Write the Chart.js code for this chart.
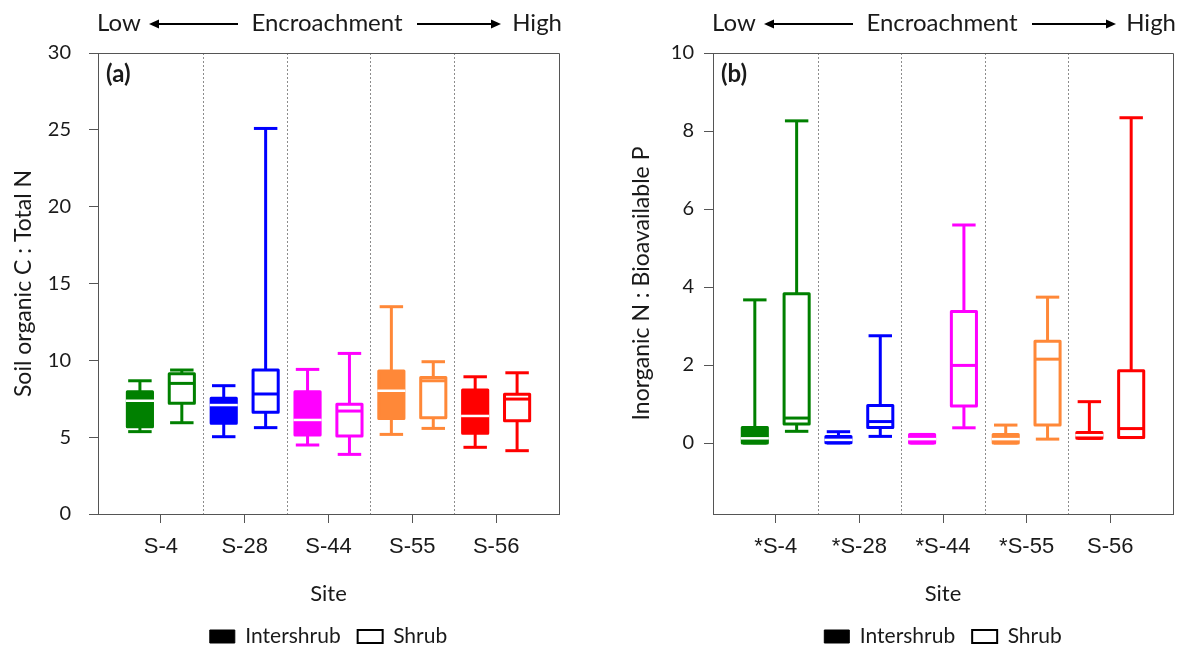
<!DOCTYPE html>
<html><head><meta charset="utf-8">
<script src="https://cdn.jsdelivr.net/npm/chart.js@4.4.1/dist/chart.umd.min.js"></script>
<style>
html,body{margin:0;padding:0;background:#fff;overflow:hidden;}
#wrap{position:relative;width:1177px;height:650px;}
.box{position:absolute;top:0;height:657px;}
#a{left:0;width:588px;}
#b{left:600px;width:577px;}
</style></head><body>
<div id="wrap"><div class="box" id="a"><canvas id="ca"></canvas></div><div class="box" id="b"><canvas id="cb"></canvas></div></div>
<script>
// ---- data ----
const sitesA = ['S-4', 'S-28', 'S-44', 'S-55', 'S-56'];
const sitesB = ['*S-4', '*S-28', '*S-44', '*S-55', 'S-56'];
const siteColors = ['#008000', '#0000ff', '#ff00ff', '#ff8838', '#ff0000'];
const ticksA = [0, 5, 10, 15, 20, 25, 30];
const ticksB = [0, 2, 4, 6, 8, 10];
// each entry: [min, Q1, median, Q3, max]
const cnIntershrub = [[5.36, 5.68, 7.37, 7.96, 8.67], [5.03, 5.90, 7.09, 7.53, 8.35], [4.49, 5.14, 6.12, 7.96, 9.41], [5.18, 6.22, 8.02, 9.30, 13.49], [4.34, 5.25, 6.38, 8.07, 8.93]];
const cnShrub = [[5.94, 7.20, 8.50, 9.12, 9.37], [5.62, 6.62, 7.81, 9.37, 25.09], [3.88, 5.07, 6.70, 7.14, 10.45], [5.57, 6.27, 8.67, 8.89, 9.91], [4.12, 6.07, 7.48, 7.79, 9.19]];
const npIntershrub = [[0.0, 0.0, 0.12, 0.40, 3.67], [0.0, 0.01, 0.08, 0.17, 0.29], [0.0, 0.0, 0.10, 0.22, 0.22], [0.0, 0.0, 0.10, 0.22, 0.46], [0.12, 0.12, 0.20, 0.27, 1.06]];
const npShrub = [[0.30, 0.49, 0.64, 3.83, 8.26], [0.17, 0.40, 0.55, 0.96, 2.75], [0.39, 0.95, 1.99, 3.37, 5.59], [0.10, 0.46, 2.15, 2.61, 3.74], [0.14, 0.14, 0.37, 1.85, 8.34]];

const CAL = 'Lato, "Open Sans", sans-serif';
const ARI = '"Liberation Sans", Arial, sans-serif';
const TXT = '#1a1a1a';

const boxPlugin = {
  id: 'boxplots',
  afterDatasetsDraw(chart, args, o) {
    const {ctx, chartArea: a, scales: {x, y}} = chart;
    ctx.save();
    // dotted dividers between sites
    ctx.strokeStyle = '#8c8c8c'; ctx.lineWidth = 1; ctx.setLineDash([2, 2]);
    for (let i = 0; i < o.sites.length - 1; i++) {
      const px = Math.round(x.getPixelForValue(i + 0.5)) + 0.5;
      ctx.beginPath(); ctx.moveTo(px, a.top); ctx.lineTo(px, a.bottom); ctx.stroke();
    }
    ctx.setLineDash([]);
    const unit = x.getPixelForValue(1) - x.getPixelForValue(0);
    const bw = unit * 0.30, cw = unit * 0.28;
    chart.data.datasets.forEach(ds => {
      ds.stats.forEach((s, i) => {
        const cx = x.getPixelForValue(i + ds.offset);
        const [mn, q1, md, q3, mx] = s.map(v => y.getPixelForValue(v));
        const col = o.colors[i];
        ctx.strokeStyle = col; ctx.lineWidth = 3; ctx.lineCap = 'butt'; ctx.lineJoin = 'round';
        const seg = (x1, y1, x2, y2) => { ctx.beginPath(); ctx.moveTo(x1, y1); ctx.lineTo(x2, y2); ctx.stroke(); };
        seg(cx, q3, cx, mx); seg(cx, q1, cx, mn);
        seg(cx - cw / 2, mx, cx + cw / 2, mx); seg(cx - cw / 2, mn, cx + cw / 2, mn);
        ctx.beginPath(); ctx.rect(cx - bw / 2, q3, bw, q1 - q3);
        ctx.fillStyle = ds.filled ? col : '#fff'; ctx.fill(); ctx.stroke();
        if (ds.filled) { ctx.strokeStyle = '#fff'; ctx.lineWidth = 2.5; seg(cx - bw / 2 - 1.5, md, cx + bw / 2 + 1.5, md); }
        else { seg(cx - bw / 2, md, cx + bw / 2, md); }
      });
    });
    // frame
    ctx.strokeStyle = '#555'; ctx.lineWidth = 1;
    ctx.strokeRect(Math.round(a.left) + 0.5, Math.round(a.top) + 0.5, Math.round(a.right - a.left), Math.round(a.bottom - a.top));
    // panel letter
    ctx.fillStyle = TXT; ctx.font = 'bold 24px ' + CAL; ctx.textAlign = 'left'; ctx.textBaseline = 'middle';
    ctx.fillText(o.letter, a.left + 8, a.top + 21);
    // header: Low <---- Encroachment ----> High
    const hy = 23, L = a.left;
    ctx.font = '24px ' + CAL;
    ctx.fillText('Low', L - 1, hy);
    ctx.textAlign = 'center'; ctx.fillText('Encroachment', L + 229, hy);
    ctx.textAlign = 'right'; ctx.fillText('High', a.right + 3, hy);
    ctx.strokeStyle = '#000'; ctx.fillStyle = '#000'; ctx.lineWidth = 2;
    const arrow = (tail, tip) => {
      const d = Math.sign(tip - tail);
      ctx.beginPath(); ctx.moveTo(tail, hy + 1); ctx.lineTo(tip - d * 8, hy + 1); ctx.stroke();
      ctx.beginPath(); ctx.moveTo(tip, hy + 1); ctx.lineTo(tip - d * 10, hy + 1 - 4.5); ctx.lineTo(tip - d * 10, hy + 1 + 4.5); ctx.closePath(); ctx.fill();
    };
    arrow(L + 140, L + 51);
    arrow(L + 319, L + 403);
    ctx.restore();
  }
};

function makeChart(id, c) {
  return new Chart(document.getElementById(id), {
    type: 'scatter',
    data: {
      datasets: [
        {label: 'Intershrub', data: c.inter.map((s, i) => ({x: i - 0.25, y: s[2]})), stats: c.inter, offset: -0.25, filled: true, pointRadius: 0},
        {label: 'Shrub', data: c.shrub.map((s, i) => ({x: i + 0.25, y: s[2]})), stats: c.shrub, offset: 0.25, filled: false, pointRadius: 0}
      ]
    },
    options: {
      responsive: true, maintainAspectRatio: false, animation: false, events: [],
      layout: {padding: {top: 53, right: c.padRight, left: 0, bottom: 0}},
      scales: {
        x: {
          type: 'linear', min: -0.75, max: 4.75,
          afterBuildTicks: ax => { ax.ticks = c.sites.map((s, i) => ({value: i})); },
          ticks: {callback: v => c.sites[v], font: {family: ARI, size: 22}, color: TXT, padding: 11, maxRotation: 0, autoSkip: false},
          grid: {drawOnChartArea: false, drawTicks: true, tickLength: 9, color: '#555', tickColor: '#555'},
          border: {color: '#555', width: 1},
          title: {display: true, text: 'Site', font: {family: CAL, size: 22}, color: TXT, padding: {top: 0, bottom: 2}},
          afterFit: ax => { ax.height = 95; }
        },
        y: {
          min: c.yMin, max: c.yMax,
          afterBuildTicks: ax => { ax.ticks = c.yTicks.map(v => ({value: v})); },
          ticks: {font: {family: CAL, size: 20}, color: TXT, padding: c.tickPad},
          grid: {drawOnChartArea: false, drawTicks: true, tickLength: 9, color: '#555', tickColor: '#555'},
          border: {color: '#555', width: 1},
          title: {display: true, text: c.yTitle, font: {family: CAL, size: 23}, color: TXT, padding: {top: c.titlePad, bottom: 0}},
          afterFit: ax => { ax.width = c.yWidth; }
        }
      },
      plugins: {
        tooltip: {enabled: false},
        legend: {
          position: 'bottom', fullSize: false,
          labels: {
            boxWidth: 25, boxHeight: 13, padding: 17, color: TXT, font: {family: CAL, size: 21},
            generateLabels: () => [
              {text: 'Intershrub', fillStyle: '#000', strokeStyle: '#000', lineWidth: 1, hidden: false, datasetIndex: 0, fontColor: TXT},
              {text: 'Shrub', fillStyle: '#fff', strokeStyle: '#000', lineWidth: 2, hidden: false, datasetIndex: 1, fontColor: TXT}
            ]
          }
        },
        boxplots: {sites: c.sites, colors: siteColors, letter: c.letter}
      }
    },
    plugins: [boxPlugin]
  });
}

makeChart('ca', {sites: sitesA, inter: cnIntershrub, shrub: cnShrub, yMin: 0, yMax: 30, yTicks: ticksA,
  yTitle: 'Soil organic C : Total N', yWidth: 98, tickPad: 18, titlePad: 10, padRight: 29, letter: '(a)'});
makeChart('cb', {sites: sitesB, inter: npIntershrub, shrub: npShrub, yMin: -1.82, yMax: 10, yTicks: ticksB,
  yTitle: 'Inorganic N : Bioavailable P', yWidth: 113, tickPad: 10, titlePad: 28, padRight: 4, letter: '(b)'});
</script>
</body></html>
